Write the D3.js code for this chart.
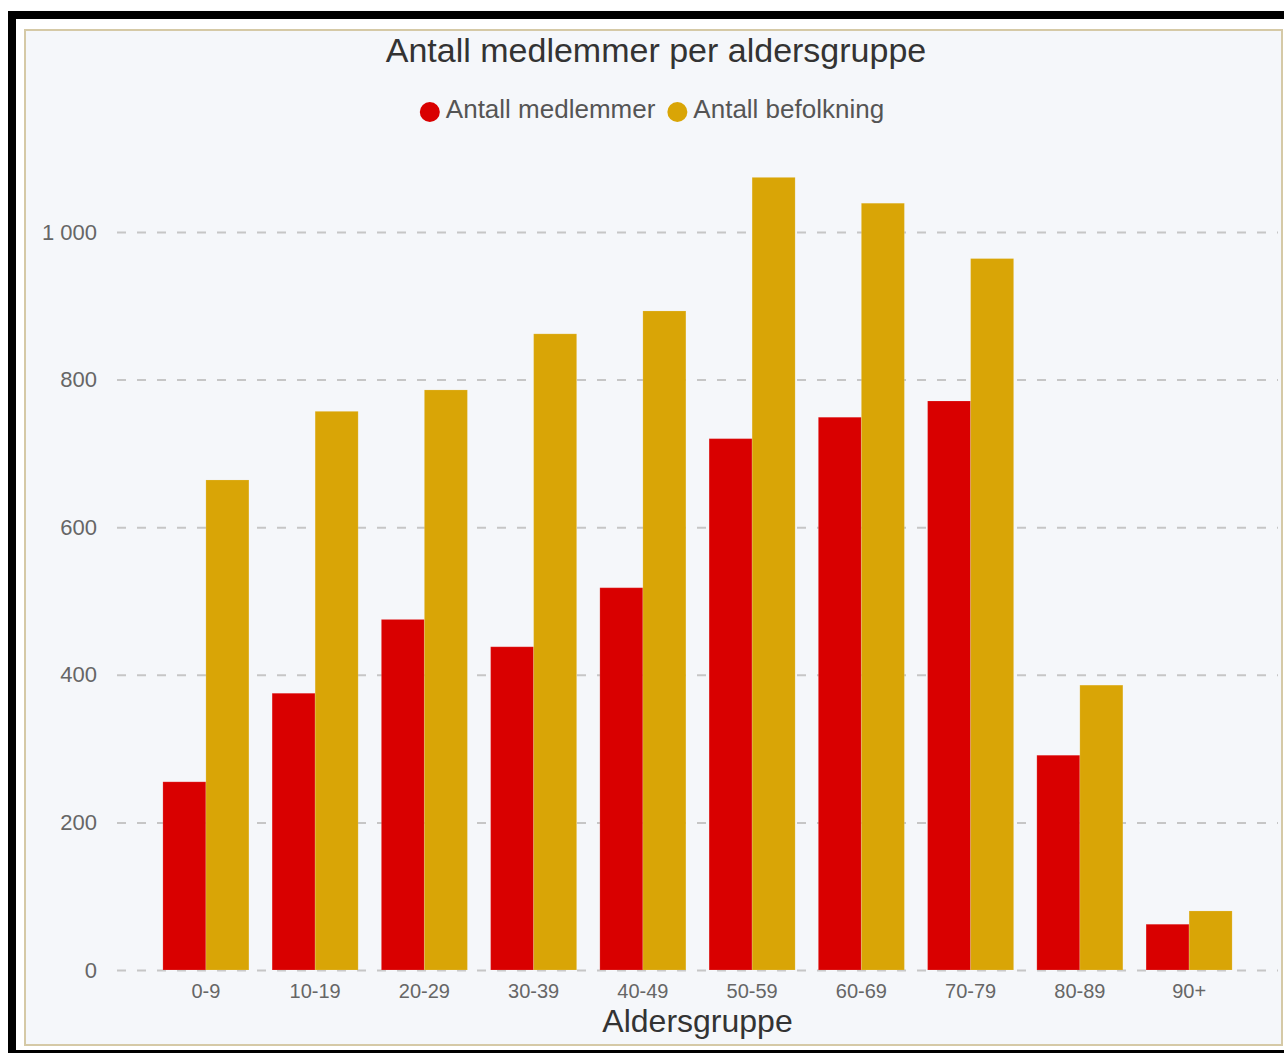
<!DOCTYPE html>
<html>
<head>
<meta charset="utf-8">
<script src="https://cdn.jsdelivr.net/npm/d3@7"></script>
<style>
  body { margin: 0; background: #fff; }
  svg { display: block; font-family: "Liberation Sans", Arial, sans-serif; }
</style>
</head>
<body>
<svg id="chart" width="1284" height="1053"></svg>
<script>
const categories = ["0-9", "10-19", "20-29", "30-39", "40-49", "50-59", "60-69", "70-79", "80-89", "90+"];
const members = [255, 375, 475, 438, 518, 720, 749, 771, 291, 62];
const population = [664, 757, 786, 862, 893, 1074, 1039, 964, 386, 80];
const seriesNames = ["Antall medlemmer", "Antall befolkning"];
const seriesColors = ["#d90000", "#d9a506"];
const yTicks = [0, 200, 400, 600, 800, 1000];

const svg = d3.select("#chart");

// outer frame + panel
svg.append("rect")
  .attr("x", 12).attr("y", 15)
  .attr("width", 1300).attr("height", 1039)
  .attr("fill", "#fff")
  .attr("stroke", "#000").attr("stroke-width", 8);

svg.append("rect")
  .attr("x", 25).attr("y", 30)
  .attr("width", 1257).attr("height", 1015)
  .attr("fill", "#f5f7fa")
  .attr("stroke", "#d5c9a6").attr("stroke-width", 2);

const plot = { left: 117, right: 1278, top: 232, bottom: 970 };

const nb = d3.formatLocale({ decimal: ",", thousands: " ", grouping: [3], currency: ["", " kr"] });
const fmt = nb.format(",d");

let x0 = d3.scaleBand()
  .domain(categories)
  .range([plot.left, plot.right])
  .paddingInner(0.2125)
  .paddingOuter(0.42);

let x1 = d3.scaleBand()
  .domain([0, 1])
  .range([0, x0.bandwidth()]);

let y = d3.scaleLinear()
  .domain([0, 1000])
  .range([plot.bottom, plot.top]);

// grid + y labels
let yAxis = svg.append("g")
  .attr("transform", "translate(" + plot.left + ",0)")
  .call(d3.axisLeft(y)
    .tickValues(yTicks)
    .tickSize(-(plot.right - plot.left))
    .tickPadding(20)
    .tickFormat(fmt));
yAxis.select(".domain").remove();
yAxis.selectAll(".tick line")
  .attr("stroke", "#c6c6c6")
  .attr("stroke-width", 2)
  .attr("stroke-dasharray", "9,11");
yAxis.selectAll(".tick text")
  .attr("fill", "#666")
  .style("font-size", "22px");

// bars
let rows = categories.map((c, i) => ({ cat: c, values: [members[i], population[i]] }));

let groups = svg.append("g").selectAll("g")
  .data(rows)
  .join("g")
  .attr("transform", d => "translate(" + x0(d.cat) + ",0)");

groups.selectAll("rect")
  .data(d => d.values.map((v, k) => ({ k: k, v: v })))
  .join("rect")
  .attr("x", d => x1(d.k))
  .attr("y", d => y(d.v))
  .attr("width", x1.bandwidth())
  .attr("height", d => y(0) - y(d.v))
  .attr("fill", d => seriesColors[d.k])
  .attr("stroke", "#fff")
  .attr("stroke-opacity", 0.15)
  .attr("stroke-width", 1);

// x axis labels
let xAxis = svg.append("g")
  .attr("transform", "translate(0," + plot.bottom + ")")
  .call(d3.axisBottom(x0).tickSize(0).tickPadding(14));
xAxis.select(".domain").remove();
xAxis.selectAll(".tick text")
  .attr("fill", "#666")
  .style("font-size", "20px");

// x axis title
svg.append("text")
  .attr("x", (plot.left + plot.right) / 2)
  .attr("y", 1032)
  .attr("text-anchor", "middle")
  .attr("fill", "#333")
  .style("font-size", "32px")
  .text("Aldersgruppe");

// title
svg.append("text")
  .attr("x", 656)
  .attr("y", 62)
  .attr("text-anchor", "middle")
  .attr("fill", "#333")
  .style("font-size", "34px")
  .text("Antall medlemmer per aldersgruppe");

// legend
let legend = svg.append("g");
let cursor = 0;
seriesNames.forEach((name, i) => {
  let item = legend.append("g").attr("transform", "translate(" + cursor + ",0)");
  item.append("circle")
    .attr("cx", 10).attr("cy", 112).attr("r", 10)
    .attr("fill", seriesColors[i]);
  let t = item.append("text")
    .attr("x", 26).attr("y", 118)
    .attr("fill", "#555")
    .style("font-size", "26px")
    .text(name);
  cursor += 26 + t.node().getComputedTextLength() + 12;
});
let legendWidth = cursor - 12;
legend.attr("transform", "translate(" + (652 - legendWidth / 2) + ",0)");
</script>
</body>
</html>
